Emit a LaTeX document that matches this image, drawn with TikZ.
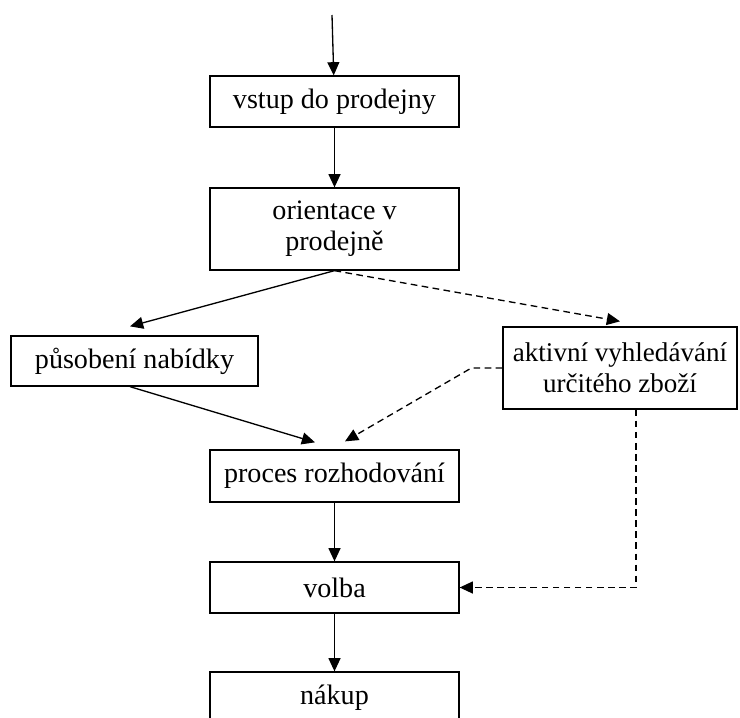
\documentclass[tikz,border=0pt]{standalone}
\usepackage{fontspec}
\setmainfont{Liberation Serif}
\usetikzlibrary{arrows.meta}

\tikzset{
  krok/.style={draw, line width=0.75pt, minimum width=#1, minimum height=1.02cm,
    inner sep=0pt, align=center, font=\fontsize{16}{17.5}\selectfont},
  krok/.default=4.98cm,
  sipka/.style={-{Triangle[length=7.5pt,width=6.8pt]}, line width=0.75pt},
  carkovana/.style={sipka, dash pattern=on 3.8pt off 2.5pt}
}

\begin{document}
\begin{tikzpicture}[x=0.02cm, y=-0.02cm]
    \clip (0,0) rectangle (740,717);

    % kroky nakupu
    \node[krok] (vstup) at (334.5,101.5) {vstup do prodejny};
    \node[krok, minimum height=1.64cm] (orientace) at (334.5,229) {orientace v\\prodejně};
    \node[krok=4.94cm, minimum height=1.0cm] (nabidka) at (134.5,361) {působení nabídky};
    \node[krok=4.68cm, minimum height=1.64cm, font=\fontsize{15.4}{17.5}\selectfont] (hledani) at (620,368) {aktivní vyhledávání\\určitého zboží};
    \node[krok, minimum height=1.04cm] (proces) at (334.5,476) {proces rozhodování};
    \node[krok] (volba) at (334.5,587.5) {volba};
    \node[krok] (nakup) at (334.5,697.5) {nákup};

    \coordinate (start) at (332,15);

    % plne sipky
    \draw[sipka] (start) -- (vstup);
    \draw[sipka] (vstup) -- (orientace);
    \draw[sipka] (orientace.south) -- ([xshift=-0.09cm,yshift=0.18cm]nabidka.north);
    \draw[sipka] ([xshift=-0.09cm]nabidka.south) -- ([xshift=-0.39cm,yshift=0.14cm]proces.north);
    \draw[sipka] (proces) -- (volba);
    \draw[sipka] (volba) -- (nakup);

    % carkovane sipky
    \draw[carkovana] (orientace.south) -- ([yshift=0.1cm]hledani.north);
    \draw[carkovana] (hledani.west) -- ++(-31,0) -- ([xshift=0.21cm,yshift=0.16cm]proces.north);
    \draw[carkovana] ([xshift=0.32cm]hledani.south) |- (volba.east);
\end{tikzpicture}
\end{document}
